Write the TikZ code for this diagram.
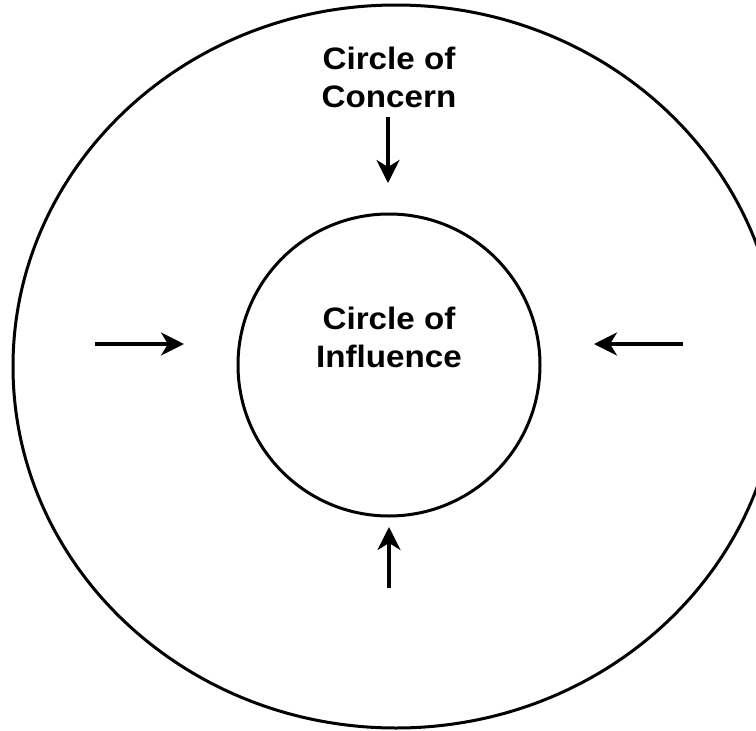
\documentclass[tikz,border=0pt]{standalone}
\usepackage{fontspec}
\setsansfont{Liberation Sans}
\newfontfamily\circlefont[FakeStretch=1.07]{Liberation Sans}
\usetikzlibrary{arrows.meta, shapes.geometric}
\tikzset{
  every picture/.style={font=\sffamily\bfseries, line width=3pt, x=1pt, y=-1pt},
  ring/.style={draw, ellipse, inner sep=0pt},
  ctext/.style={font=\circlefont\bfseries\fontsize{31}{38}\selectfont, align=center},
  arrow/.style={-{Stealth[length=23pt, width=23pt, inset=7pt]}, line width=3.5pt},
}

\begin{document}
\begin{tikzpicture}
  \useasboundingbox (0,0) rectangle (756,731);
  \clip (0,0) rectangle (756,731);
  % the two circles
  \node[ring, minimum width=766pt, minimum height=723pt] (concern) at (396,366.5) {};
  \node[ring, minimum size=302pt] (influence) at (389,365) {};
  \node[ctext] (influencelbl) at (389,337) {Circle of\\Influence};
  \node[ctext] (concernlbl) at (389,77) {Circle of\\Concern};

  % arrows pointing in
  \foreach \n/\a/\b in {top/{388,117}/{388,183}, left/{95,344}/{184,344}, right/{683,344}/{594,344}, bottom/{389,588}/{389,527}} {
    \path (\a) coordinate (\n from) (\b) coordinate (\n to);
  }
  \foreach \n in {top, left, right, bottom} { \draw[arrow] (\n from) -- (\n to); }
\end{tikzpicture}
\end{document}
